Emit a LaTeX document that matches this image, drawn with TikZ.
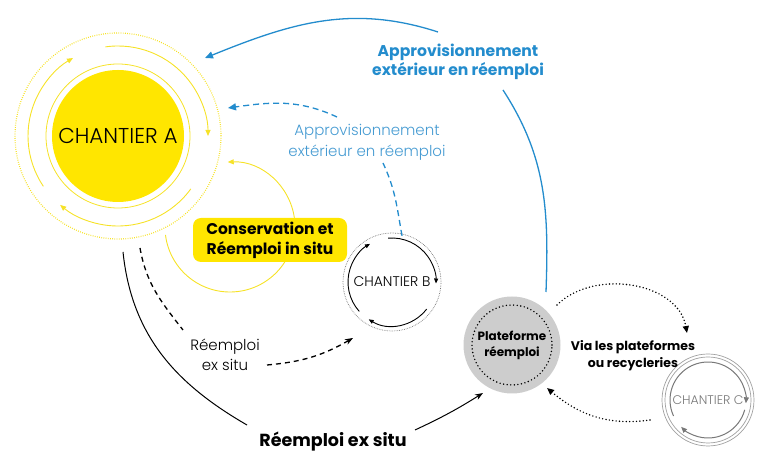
\documentclass[tikz,border=0pt]{standalone}
\usepackage{fontspec}
\usepackage{tikz}
\usetikzlibrary{positioning,arrows.meta}
\newfontfamily\boldfont{Poppins}[UprightFont=* Bold]
\newfontfamily\lightfont{Poppins Light}
\definecolor{sunyellow}{RGB}{255,230,0}
\definecolor{lineyellow}{RGB}{246,226,40}
\definecolor{supplyblue}{RGB}{35,140,205}
\definecolor{softblue}{RGB}{70,155,210}
\definecolor{platgray}{RGB}{205,205,205}
\definecolor{ringgray}{RGB}{120,120,120}

\begin{document}
\begin{tikzpicture}[x=1pt, y=1pt,
				sitenode/.style={circle, inner sep=0pt, text=black, font=\lightfont},
				boldlabel/.style={align=center, inner sep=0pt, font=\boldfont},
				lightlabel/.style={align=center, inner sep=0pt, font=\lightfont},
				yelarc/.style={lineyellow, line width=0.9pt, -{Triangle[length=6pt, width=5pt]}},
				blackarc/.style={black, line width=0.9pt, -{Triangle[length=5pt, width=4pt]}},
				grayarc/.style={ringgray, line width=1pt, -{Triangle[length=6pt, width=5pt]}},
			]
			\useasboundingbox (0,0) rectangle (768,476);
			% sites
			\node[sitenode, fill=sunyellow, minimum size=132pt, font=\lightfont\fontsize{21.5}{26}\selectfont] (chA) at (118,340) {CHANTIER A};
			\node[sitenode, minimum size=96pt, font=\lightfont\fontsize{14}{18}\selectfont] (chB) at (392,194) {CHANTIER B};
			\node[sitenode, fill=platgray, minimum size=97pt, font=\boldfont\fontsize{12}{16}\selectfont, align=center] (plat) at (512,131) {Plateforme\\r\'eemploi};
			\node[sitenode, minimum size=92pt, text=ringgray, font=\lightfont\fontsize{12.5}{16}\selectfont] (chC) at (708,76) {CHANTIER C};
			% rings
			\draw[lineyellow, line width=0.8pt] (chA) circle[radius=72pt];
			\draw[lineyellow, line width=1.2pt, dash pattern=on 0.8pt off 1.4pt] (chA) circle[radius=103pt];
			\draw[ringgray, line width=0.7pt, dash pattern=on 0.7pt off 1pt] (chB) circle[radius=49pt];
			\draw[black, line width=1.6pt, line cap=round, dash pattern=on 0pt off 3.6pt] (plat) circle[radius=40pt];
			\draw[ringgray!70, line width=0.7pt] (chC) circle[radius=46pt];
			\draw[ringgray!70, line width=0.7pt] (chC) circle[radius=43pt];
			% turning arrows
			\draw[yelarc] ([shift={(98:90pt)}]chA.center) arc[start angle=98, end angle=0, radius=90pt];
			\draw[yelarc] ([shift={(214:90pt)}]chA.center) arc[start angle=214, end angle=120, radius=90pt];
			\draw[yelarc] ([shift={(-36:90pt)}]chA.center) arc[start angle=-36, end angle=-130, radius=90pt];
			\draw[blackarc] ([shift={(95:44pt)}]chB.center) arc[start angle=95, end angle=-2, radius=44pt];
			\draw[blackarc] ([shift={(222:44pt)}]chB.center) arc[start angle=222, end angle=120, radius=44pt];
			\draw[blackarc] ([shift={(-38:44pt)}]chB.center) arc[start angle=-38, end angle=-122, radius=44pt];
			\draw[grayarc] ([shift={(205:38pt)}]chC.center) arc[start angle=205, end angle=-5, radius=38pt];
			\draw[grayarc] ([shift={(-15:38pt)}]chC.center) arc[start angle=-15, end angle=-135, radius=38pt];
			% in situ loop
			\coordinate (loopc) at (230,249);
			\draw[yelarc] ([shift={(187:65pt)}]loopc) arc[start angle=187, end angle=452, radius=65pt];
			\node[boldlabel, fill=sunyellow, rounded corners=8pt, minimum width=154pt, minimum height=44pt, font=\boldfont\fontsize{15.5}{20}\selectfont] (insitu) at (270,236) {Conservation et\\R\'eemploi in situ};
			% labels
			\node[boldlabel, text=supplyblue, font=\boldfont\fontsize{15.6}{19.5}\selectfont] (supplybold) at (458,414) {Approvisionnement\\ext\'erieur en r\'eemploi};
			\node[lightlabel, text=softblue, font=\lightfont\fontsize{15}{21}\selectfont] (supplylight) at (367,334) {Approvisionnement\\ext\'erieur en r\'eemploi};
			\node[lightlabel, font=\lightfont\fontsize{15}{20}\selectfont] (exsitulight) at (225,121) {R\'eemploi\\ex situ};
			\node[boldlabel, font=\boldfont\fontsize{17.5}{20}\selectfont] (exsitubold) at (333,34) {R\'eemploi ex situ};
			\node[boldlabel, font=\boldfont\fontsize{12.5}{17}\selectfont] (via) at (633,120) {Via les plateformes\\ou recycleries};
			% free ends
			\coordinate (blueS) at (546,184);
			\coordinate (blueA) at (503,386);
			\coordinate (blueB) at (438,444);
			\coordinate (blueT) at (205,418);
			\coordinate (dashA) at (383,313);
			\coordinate (dashB) at (337,359);
			\coordinate (dashT) at (228,368);
			\coordinate (solidA) at (123,224);
			\coordinate (solidB) at (247,51);
			\coordinate (solidC) at (415,46);
			\coordinate (solidT) at (483,83);
			\coordinate (exA) at (140,228);
			\coordinate (exB) at (183,146);
			\coordinate (exC) at (267,111);
			\coordinate (exT) at (353,138);
			\coordinate (dotA) at (557,171);
			\coordinate (dotT) at (687,143);
			\coordinate (dotB) at (650,56);
			\coordinate (dotT2) at (547,88);
			\begin{scope}[supplyblue, line width=1.3pt]
			\draw (blueS) to[out=88, in=-57] (blueA);
			\draw[-{Triangle[length=8pt, width=7pt]}] (blueB) to[out=162, in=22] (blueT);
			\draw[dash pattern=on 6pt off 4pt] (chB.north) ++(10,-2) to[out=100, in=-65] (dashA);
			\draw[dash pattern=on 6pt off 4pt, -{Triangle[length=8pt, width=7pt]}] (dashB) to[out=155, in=8] (dashT);
			\end{scope}
			\begin{scope}[black, line width=1pt, -{Stealth[length=8pt, width=6pt]}]
			\draw[-] (solidA) to[out=-84, in=150] (solidB);
			\draw (solidC) to[out=25, in=-148] (solidT);
			\draw[-, line width=1.3pt, dash pattern=on 5pt off 4pt] (exA) to[out=-80, in=128] (exB);
			\draw[line width=1.3pt, dash pattern=on 5pt off 4pt] (exC) to[out=5, in=-150] (exT);
			\end{scope}
			\begin{scope}[black, line width=1.6pt, line cap=round, dash pattern=on 0pt off 3.4pt, -{Triangle[length=7pt, width=6pt, line cap=butt]}]
			\draw (dotA) to[out=45, in=100] (dotT);
			\draw (dotB) to[out=188, in=-40] (dotT2);
			\end{scope}
			\end{tikzpicture}
\end{document}
